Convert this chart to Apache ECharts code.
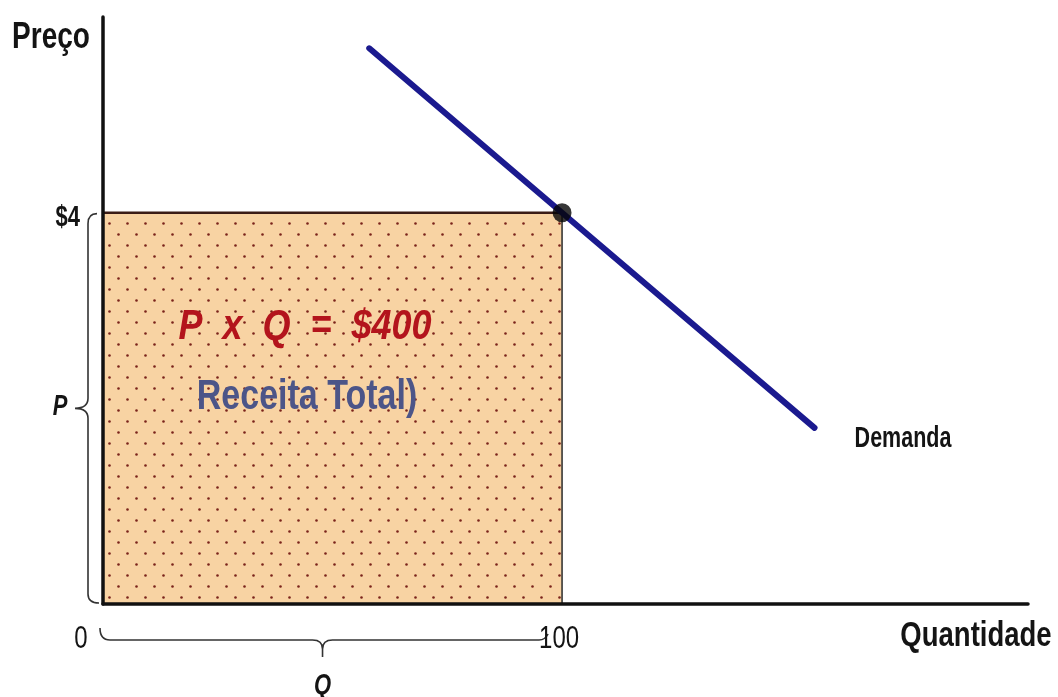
<!DOCTYPE html>
<html>
<head>
<meta charset="utf-8">
<script src="https://cdn.jsdelivr.net/npm/echarts@6/dist/echarts.min.js"></script>
<style>
  html, body { margin: 0; padding: 0; background: #ffffff; }
  #chart { width: 1058px; height: 697px; }
</style>
</head>
<body>
<div id="chart"></div>
<script>
// Demand curve (quantity, price)
const demandQuantity = [58, 100, 155];
const demandPrice = [5.68, 4, 1.8];
// Chosen point on the demand curve
const pointQuantity = 100;
const pointPrice = 4;
// Tick labels
const quantityTickValues = [0, 100];
const quantityTickLabels = ['0', '100'];
const priceTickValues = [4];
const priceTickLabels = ['$4'];

const NARROW = "'Liberation Sans Narrow', 'Arial Narrow', 'Liberation Sans', Arial, sans-serif";

function dotPattern() {
  const c = document.createElement('canvas');
  c.width = 18; c.height = 22;
  const g = c.getContext('2d');
  g.fillStyle = '#F8D3A3';
  g.fillRect(0, 0, 18, 22);
  g.fillStyle = '#7a231b';
  [[1.5, 3.5], [10.5, 14.5]].forEach(([x, y]) => {
    g.beginPath(); g.arc(x, y, 1.3, 0, Math.PI * 2); g.fill();
  });
  return c;
}
const pattern = dotPattern();

function label(text, x, y, font, fill, stretch, align) {
  return {
    type: 'text', x: x, y: y, scaleY: stretch || 1.2, z: 100,
    style: { text: text, font: font, fill: fill, textAlign: align || 'center', textVerticalAlign: 'middle' }
  };
}

const chart = echarts.init(document.getElementById('chart'), null, { renderer: 'canvas' });

const option = {
  animation: false,
  backgroundColor: '#ffffff',
  grid: { left: 103, top: 17, width: 925, height: 587, containLabel: false },
  xAxis: {
    type: 'value', min: 0, max: 201.5, z: 10,
    axisLine: { show: true, onZero: false, lineStyle: { color: '#111', width: 3.5 } },
    axisTick: { show: false }, axisLabel: { show: false }, splitLine: { show: false }
  },
  yAxis: {
    type: 'value', min: 0, max: 6, z: 10,
    axisLine: { show: true, onZero: false, lineStyle: { color: '#111', width: 3.5 } },
    axisTick: { show: false }, axisLabel: { show: false }, splitLine: { show: false }
  },
  graphic: {
    elements: [
      label('Preço', 51, 38, 'bold 28px ' + NARROW, '#141414', 1.3),
      label('Quantidade', 976, 637, 'bold 27.5px ' + NARROW, '#141414', 1.25),
      label('Demanda', 903, 439, 'bold 21.5px ' + NARROW, '#141414', 1.35),
      label('P  x  Q  =  $400', 305, 327, 'italic bold 36px ' + NARROW, '#B3141C', 1.2),
      label('Receita Total)', 307, 397, 'bold 34px ' + NARROW, '#4C5588', 1.25)
    ]
  },
  series: [
    {
      // total revenue rectangle P x Q
      type: 'custom',
      z: 1,
      data: [[pointQuantity, pointPrice]],
      encode: { x: 0, y: 1 },
      renderItem: function (params, api) {
        const tl = api.coord([0, api.value(1)]);
        const br = api.coord([api.value(0), 0]);
        return {
          type: 'group',
          children: [
            { type: 'rect', shape: { x: tl[0], y: tl[1], width: br[0] - tl[0], height: br[1] - tl[1] },
              style: { fill: { image: pattern, repeat: 'repeat' } } },
            { type: 'line', shape: { x1: tl[0], y1: tl[1], x2: br[0], y2: tl[1] },
              style: { stroke: '#3b1c16', lineWidth: 2.5 } },
            { type: 'line', shape: { x1: br[0], y1: tl[1], x2: br[0], y2: br[1] },
              style: { stroke: '#2a2a2a', lineWidth: 1.5 } }
          ]
        };
      }
    },
    {
      // braces and tick labels
      type: 'custom',
      z: 3,
      data: [[pointQuantity, pointPrice]],
      encode: { x: 0, y: 1 },
      renderItem: function (params, api) {
        const o = api.coord([0, 0]);
        const top = api.coord([0, api.value(1)]);
        const right = api.coord([api.value(0), 0]);
        const children = [];
        // vertical brace for P
        const bx = o[0] - 15, tipX = o[0] - 28, midY = (top[1] + o[1]) / 2;
        children.push({
          type: 'path',
          shape: { pathData:
            'M' + (o[0] - 6) + ' ' + (top[1] + 1) +
            ' Q' + bx + ' ' + (top[1] + 1) + ' ' + bx + ' ' + (top[1] + 11) +
            ' L' + bx + ' ' + (midY - 10) +
            ' Q' + bx + ' ' + midY + ' ' + tipX + ' ' + midY +
            ' Q' + bx + ' ' + midY + ' ' + bx + ' ' + (midY + 10) +
            ' L' + bx + ' ' + (o[1] - 10) +
            ' Q' + bx + ' ' + (o[1] - 1) + ' ' + (o[0] - 4) + ' ' + (o[1] - 1)
          },
          style: { stroke: '#333', lineWidth: 1.6, fill: null }
        });
        children.push(label('P', tipX - 15, midY - 1, 'italic bold 22px ' + NARROW, '#141414', 1.3));
        // horizontal brace for Q
        const by = o[1] + 36, lx = o[0] - 3, rx = right[0] - 17, tx = (lx + rx) / 2;
        children.push({
          type: 'path',
          shape: { pathData:
            'M' + lx + ' ' + (o[1] + 24) +
            ' Q' + lx + ' ' + by + ' ' + (lx + 10) + ' ' + by +
            ' L' + (tx - 10) + ' ' + by +
            ' Q' + tx + ' ' + by + ' ' + tx + ' ' + (by + 9) +
            ' L' + tx + ' ' + (by + 17) +
            ' M' + tx + ' ' + (by + 9) +
            ' Q' + tx + ' ' + by + ' ' + (tx + 10) + ' ' + by +
            ' L' + (rx - 6) + ' ' + by +
            ' Q' + rx + ' ' + by + ' ' + (rx + 3) + ' ' + (by - 6)
          },
          style: { stroke: '#333', lineWidth: 1.6, fill: null }
        });
        children.push(label('Q', tx, by + 46, 'italic bold 22px ' + NARROW, '#141414', 1.3));
        // tick labels
        quantityTickValues.forEach(function (v, i) {
          const p = api.coord([v, 0]);
          const dx = v === 0 ? -22 : -3;
          children.push(label(quantityTickLabels[i], p[0] + dx, p[1] + 35, '24px ' + NARROW, '#141414', 1.3));
        });
        priceTickValues.forEach(function (v, i) {
          const p = api.coord([0, v]);
          children.push(label(priceTickLabels[i], p[0] - 23, p[1] + 5, 'bold 22px ' + NARROW, '#141414', 1.3, 'right'));
        });
        return { type: 'group', children: children };
      }
    },
    {
      name: 'Demanda',
      type: 'line',
      z: 4,
      data: demandQuantity.map(function (q, i) { return [q, demandPrice[i]]; }),
      symbol: 'none',
      lineStyle: { color: '#1b1a8f', width: 6, cap: 'round' }
    },
    {
      type: 'scatter',
      z: 5,
      data: [[pointQuantity, pointPrice]],
      symbol: 'circle',
      symbolSize: 19,
      itemStyle: { color: '#050505' }
    }
  ]
};

chart.setOption(option);
</script>
</body>
</html>
